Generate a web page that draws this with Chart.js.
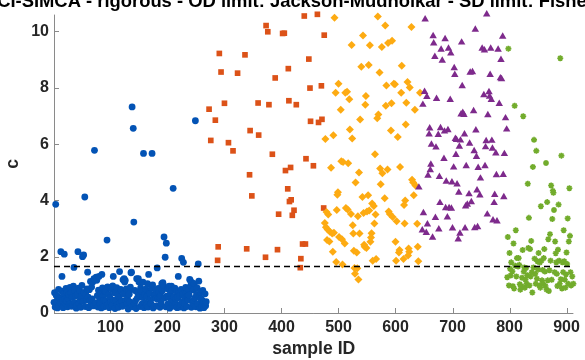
<!DOCTYPE html>
<html>
<head>
<meta charset="utf-8">
<script src="https://cdn.jsdelivr.net/npm/chart.js@4.4.1/dist/chart.umd.min.js"></script>
<style>
  html, body { margin: 0; padding: 0; background: #fff; }
  #wrap { width: 585px; height: 360px; }
</style>
</head>
<body>
<div id="wrap"><canvas id="c" width="585" height="360"></canvas></div>
<script>
// ---- data -------------------------------------------------------------
const titleText = 'CI-SIMCA - rigorous - OD limit: Jackson-Mudholkar - SD limit: Fisher';
const xTitle = 'sample ID';
const yTitle = 'c';
const xTickValues = [100, 200, 300, 400, 500, 600, 700, 800, 900];
const yTickValues = [0, 2, 4, 6, 8, 10];
const xRange = [1, 912];
const yRange = [0, 10.6];
const cLimit = 1.65;

// class 1: samples 1..268, value per sample in order
const class1C = [
  0.38, 0.72, 0.21, 3.86, 0.62, 0.41, 0.18, 0.58, 0.84, 0.26,
  0.52, 0.36, 2.18, 0.78, 1.30, 0.44, 0.19, 0.68, 2.09, 0.49,
  0.35, 0.87, 0.42, 0.74, 0.22, 0.51, 0.66, 0.30, 0.91, 0.33,
  0.71, 0.24, 0.55, 0.30, 0.95, 1.62, 0.82, 0.37, 0.60, 0.17,
  0.27, 0.66, 2.18, 0.88, 0.34, 0.79, 0.45, 0.20, 0.58, 0.98,
  2.00, 0.41, 2.06, 0.73, 4.12, 0.23, 0.64, 0.47, 0.86, 1.45,
  0.56, 0.19, 0.83, 0.44, 1.12, 0.31, 0.92, 0.50, 1.10, 0.25,
  1.22, 5.78, 1.19, 0.35, 1.27, 1.16, 0.62, 0.21, 0.81, 1.30,
  0.47, 0.33, 0.69, 0.18, 1.37, 0.89, 0.61, 0.45, 0.22, 0.77,
  0.43, 0.76, 0.26, 2.59, 0.93, 0.31, 0.64, 0.19, 0.55, 0.88,
  0.38, 0.85, 0.27, 0.96, 1.30, 0.46, 0.72, 0.16, 0.72, 0.44,
  0.90, 0.29, 0.63, 0.20, 0.57, 1.47, 0.35, 0.84, 0.81, 0.42,
  0.24, 1.18, 0.67, 1.22, 1.10, 1.16, 0.45, 0.86, 0.32, 0.51,
  0.14, 0.78, 0.67, 0.39, 0.92, 1.43, 1.45, 7.32, 0.22, 6.56,
  3.23, 0.35, 0.80, 0.44, 0.16, 1.22, 0.53, 0.71, 1.22, 1.10,
  0.62, 0.23, 0.89, 0.78, 0.31, 0.55, 1.10, 5.67, 0.19, 0.65,
  0.36, 0.85, 0.28, 0.58, 1.04, 0.21, 1.37, 0.74, 0.70, 0.47,
  0.33, 0.90, 5.67, 1.00, 0.18, 0.54, 0.24, 0.66, 0.83, 0.52,
  0.25, 1.60, 0.49, 0.87, 0.73, 0.56, 0.20, 0.62, 0.35, 1.04,
  0.79, 1.08, 0.98, 2.70, 0.53, 1.98, 0.22, 2.48, 0.60, 0.86,
  0.32, 0.57, 0.95, 0.17, 0.69, 0.39, 0.95, 0.81, 0.27, 4.43,
  0.58, 0.24, 0.88, 0.35, 0.50, 0.77, 0.19, 0.55, 1.30, 0.72,
  0.61, 0.21, 0.30, 0.84, 1.94, 0.40, 0.67, 1.80, 0.18, 0.34,
  0.56, 0.91, 0.71, 0.23, 0.59, 0.46, 0.85, 0.63, 1.19, 1.16,
  0.98, 0.20, 1.08, 0.36, 0.82, 0.44, 1.04, 0.53, 6.83, 0.22,
  0.66, 0.89, 0.33, 1.74, 1.13, 0.58, 0.17, 0.75, 0.50, 0.22,
  0.45, 0.80, 0.37, 0.19, 0.30, 0.68, 0.26, 0.40
];
const class1FirstId = 1;

// class 2 (squares)
const class2Id = [440, 463, 373, 376, 402, 405, 475, 291, 336, 448,
  294, 323, 412, 389, 450, 470, 300, 273, 359, 378,
  413, 426, 284, 451, 465, 471, 345, 360, 276, 307,
  315, 384, 443, 456, 407, 416, 344, 348, 411, 414,
  417, 422, 395, 419, 289, 339, 393, 288, 372, 474,
  437, 442, 434, 433];
const class2C = [10.55, 10.61, 10.21, 9.99, 9.93, 9.94, 9.87, 9.22, 9.17, 9.02,
  8.56, 8.52, 8.68, 8.35, 7.99, 8.07, 7.45, 7.24, 7.46, 7.40,
  7.54, 7.40, 6.85, 6.81, 6.77, 6.88, 6.48, 6.32, 6.13, 6.05,
  5.76, 5.64, 5.48, 5.23, 5.06, 5.17, 4.91, 4.16, 4.41, 3.96,
  4.02, 3.65, 3.51, 3.47, 2.35, 2.28, 2.25, 1.87, 1.98, 3.73,
  2.45, 2.45, 1.93, 1.61];

// class 3 (diamonds)
const class3Id = [493, 569, 582, 628, 543, 523, 555, 576, 587, 594,
  540, 553, 572, 611, 500, 495, 512, 515, 519, 504,
  548, 547, 584, 597, 599, 621, 625, 610, 643, 593,
  583, 619, 634, 570, 568, 538, 520, 491, 477, 524,
  592, 618, 604, 564, 505, 508, 517, 487, 536, 573,
  577, 586, 608, 629, 530, 574, 631, 635, 499, 498,
  542, 552, 581, 617, 632, 559, 562, 615, 479, 482,
  497, 513, 516, 522, 544, 550, 554, 565, 588, 590,
  602, 616, 638, 476, 478, 481, 485, 489, 492, 534,
  525, 563, 595, 526, 537, 558, 557, 501, 506, 480,
  484, 511, 545, 546, 549, 556, 600, 639, 490, 527,
  532, 607, 606, 623, 624, 622, 614, 560, 566, 601,
  640, 496, 507, 528, 533, 529, 535];
const class3C = [10.49, 10.53, 10.21, 10.16, 9.86, 9.52, 9.51, 9.45, 9.59, 9.67,
  8.75, 8.81, 8.54, 8.78, 8.14, 7.82, 7.82, 7.86, 7.59, 7.22,
  7.71, 7.40, 8.08, 8.14, 8.13, 8.21, 8.01, 7.82, 7.82, 7.45,
  7.36, 7.47, 7.22, 7.05, 6.92, 6.87, 6.52, 6.31, 6.18, 6.20,
  6.48, 6.70, 6.25, 5.64, 5.39, 5.36, 5.32, 5.16, 4.99, 5.13,
  4.96, 5.10, 5.19, 4.73, 4.64, 4.57, 4.64, 4.53, 4.29, 4.20,
  4.12, 4.18, 4.08, 4.00, 4.18, 3.89, 3.80, 3.84, 3.59, 3.50,
  3.66, 3.73, 3.68, 3.52, 3.55, 3.61, 3.64, 3.50, 3.61, 3.52,
  3.26, 3.18, 3.17, 3.20, 3.05, 2.97, 2.89, 2.82, 2.85, 3.44,
  3.12, 3.18, 3.41, 2.82, 2.82, 2.83, 2.68, 2.70, 2.62, 2.59,
  2.54, 2.47, 2.42, 2.35, 2.31, 2.53, 2.53, 2.35, 2.18, 2.21,
  2.15, 2.24, 2.15, 2.29, 2.18, 2.04, 1.92, 1.86, 1.92, 1.86,
  1.84, 1.81, 1.72, 1.60, 1.59, 1.39, 1.19];

// class 4 (triangles)
const class4Id = [652, 666, 667, 669, 651, 655, 672, 648, 660, 659,
  675, 663, 671, 662, 661, 657, 760, 740, 788, 687,
  716, 680, 693, 697, 752, 756, 767, 780, 682, 785,
  703, 704, 731, 735, 766, 784, 786, 717, 755, 764,
  765, 768, 696, 782, 737, 715, 718, 720, 762, 793,
  795, 679, 686, 692, 741, 721, 705, 707, 714, 730,
  759, 769, 712, 758, 770, 776, 738, 791, 706, 742,
  685, 724, 702, 745, 757, 777, 789, 677, 749,
  641, 649, 670, 656, 647, 654, 665, 689, 699, 708,
  711, 729, 743, 748, 774, 790, 678, 688, 694, 698,
  723, 726, 733, 773, 691, 761, 771, 778, 676, 700,
  722, 713, 739, 744, 710];
const class4C = [10.43, 9.84, 9.58, 9.10, 7.86, 7.68, 7.61, 7.40, 6.56, 6.35,
  6.33, 5.98, 5.88, 5.27, 5.08, 4.88, 10.61, 10.07, 9.82, 9.73,
  9.61, 9.36, 9.39, 9.22, 9.39, 9.33, 9.39, 9.36, 8.97, 8.99,
  8.70, 8.46, 8.54, 8.56, 8.46, 8.34, 8.31, 8.06, 7.74, 7.85,
  7.69, 7.57, 7.57, 7.43, 7.17, 7.06, 7.11, 7.04, 7.03, 6.92,
  6.52, 6.57, 6.45, 6.50, 6.49, 6.35, 6.19, 6.15, 6.13, 6.02,
  6.11, 6.12, 5.91, 5.89, 5.84, 5.67, 5.75, 5.65, 5.62, 5.55,
  5.48, 5.22, 5.17, 5.16, 5.22, 4.90, 4.91, 4.84, 4.78,
  4.46, 3.55, 3.38, 3.15, 2.94, 2.85, 2.68, 4.67, 4.64, 4.57,
  4.28, 4.22, 4.36, 4.18, 4.20, 4.12, 3.91, 3.73, 3.73, 3.71,
  3.79, 3.85, 3.94, 3.91, 3.40, 3.50, 3.29, 3.26, 2.97, 3.01,
  3.01, 2.82, 3.02, 3.05, 2.62];

// class 5 (asterisks)
const class5Id = [796, 797, 798, 799, 800, 801, 802, 803, 805, 806,
  807, 808, 809, 810, 811, 812, 813, 815, 816, 817,
  818, 819, 821, 822, 823, 824, 825, 826, 827, 828,
  829, 830, 831, 832, 833, 834, 835, 836, 837, 838,
  839, 840, 841, 842, 843, 844, 845, 846, 847, 848,
  849, 850, 851, 852, 853, 854, 855, 856, 857, 858,
  859, 860, 861, 862, 863, 864, 865, 866, 867, 868,
  869, 870, 871, 872, 873, 874, 875, 876, 877, 878,
  879, 880, 881, 882, 883, 884, 885, 886, 887, 888,
  889, 890, 891, 892, 893, 894, 895, 896, 897, 898,
  899, 900, 901, 902, 903, 904, 905, 906, 907, 908,
  910, 912];
const class5C = [1.27, 2.70, 9.39, 0.98, 2.13, 1.57, 1.33, 1.80, 1.48, 0.95,
  2.47, 0.87, 7.36, 1.68, 2.94, 1.30, 1.95, 1.65, 1.95, 1.71,
  1.02, 0.83, 0.95, 1.25, 2.24, 6.99, 1.47, 1.62, 0.90, 1.18,
  1.60, 1.04, 1.34, 4.59, 2.31, 3.38, 0.98, 2.27, 1.30, 2.56,
  1.45, 0.73, 5.19, 1.62, 6.15, 1.93, 1.39, 1.04, 5.76, 1.22,
  1.84, 1.54, 2.13, 0.98, 1.79, 0.90, 3.79, 1.86, 1.16, 1.53,
  1.04, 1.95, 2.27, 1.47, 0.96, 5.33, 0.83, 3.94, 1.16, 2.62,
  0.78, 1.52, 2.80, 1.86, 4.53, 1.18, 3.34, 4.34, 4.27, 3.66,
  1.45, 2.54, 2.12, 1.80, 1.39, 0.96, 2.25, 3.85, 1.86, 1.04,
  9.05, 1.20, 5.59, 0.87, 1.80, 1.45, 2.94, 1.84, 1.18, 0.90,
  1.37, 2.15, 1.74, 3.36, 1.04, 2.54, 4.43, 2.74, 1.45, 0.98,
  1.30, 1.04];

// ---- helpers ----------------------------------------------------------
const FONT = '"Liberation Sans", Arial, Helvetica, sans-serif';
const pairs = (ids, vals) => ids.map((id, i) => ({ x: id, y: vals[i] }));
const class1Points = class1C.map((v, i) => ({ x: class1FirstId + i, y: v }));

function scatterSet(label, data, style, color, radius, order, extra) {
  return Object.assign({
    type: 'scatter', label, data, order,
    pointStyle: style, pointRadius: radius, pointHoverRadius: radius,
    backgroundColor: color, borderColor: color, borderWidth: 0,
    clip: false
  }, extra || {});
}

// axes lines, inward tick marks, and the texts around the plot
const framePlugin = {
  id: 'frame',
  beforeDatasetsDraw(chart) {
    const { ctx, chartArea: a, scales } = chart;
    ctx.save();
    ctx.strokeStyle = '#8a8a8a';
    ctx.lineWidth = 1;
    ctx.beginPath();
    ctx.moveTo(a.left + 0.5, a.top);
    ctx.lineTo(a.left + 0.5, a.bottom + 0.5);
    ctx.lineTo(a.right, a.bottom + 0.5);
    xTickValues.forEach(v => {
      const px = Math.round(scales.x.getPixelForValue(v)) + 0.5;
      ctx.moveTo(px, a.bottom);
      ctx.lineTo(px, a.bottom - 5);
    });
    yTickValues.forEach(v => {
      const py = Math.round(scales.y.getPixelForValue(v)) + 0.5;
      ctx.moveTo(a.left, py);
      ctx.lineTo(a.left + 5, py);
    });
    ctx.stroke();
    ctx.restore();
  },
  afterDraw(chart) {
    const { ctx, chartArea: a } = chart;
    ctx.save();
    ctx.fillStyle = '#000000';
    ctx.font = 'bold 18.4px ' + FONT;
    ctx.textAlign = 'center';
    ctx.textBaseline = 'alphabetic';
    ctx.fillText(titleText, 295.5, 6.5);

    ctx.fillStyle = '#262626';
    ctx.font = 'bold 17.6px ' + FONT;
    ctx.fillText(xTitle, (a.left + a.right) / 2, 354);

    ctx.translate(18, (a.top + a.bottom) / 2);
    ctx.rotate(-Math.PI / 2);
    ctx.fillText(yTitle, 0, 0);
    ctx.restore();
  }
};

const tickFont = { family: FONT, size: 16, weight: 'bold' };

new Chart(document.getElementById('c'), {
  type: 'scatter',
  data: {
    datasets: [
      scatterSet('class 1', class1Points, 'circle', '#0353b5', 3.4, 5),
      scatterSet('class 2', pairs(class2Id, class2C), 'rect', '#dc5218', 4, 4),
      scatterSet('class 3', pairs(class3Id, class3C), 'rectRot', '#fdab12', 4, 3),
      scatterSet('class 4', pairs(class4Id, class4C), 'triangle', '#7e2a8c', 4.3, 2),
      scatterSet('class 5', pairs(class5Id, class5C), 'star', '#72ac2c', 3, 1, { borderWidth: 1.6 }),
      {
        type: 'line', label: 'limit', order: 0,
        data: [{ x: xRange[0], y: cLimit }, { x: xRange[1], y: cLimit }],
        borderColor: '#000000', borderWidth: 1.4, borderDash: [6, 4],
        pointRadius: 0, fill: false, clip: false
      }
    ]
  },
  options: {
    responsive: false,
    animation: false,
    devicePixelRatio: 1,
    layout: { padding: { top: 11, right: 9, left: 0, bottom: 0 } },
    plugins: { legend: { display: false }, tooltip: { enabled: false }, title: { display: false } },
    scales: {
      x: {
        type: 'linear', position: 'bottom',
        min: xRange[0], max: xRange[1],
        grid: { display: false, drawTicks: false },
        border: { display: false },
        afterBuildTicks: s => { s.ticks = xTickValues.map(v => ({ value: v })); },
        afterFit: s => { s.height = 47; },
        ticks: { font: tickFont, color: '#262626', padding: 5, maxRotation: 0, autoSkip: false }
      },
      y: {
        type: 'linear', position: 'left',
        min: yRange[0], max: yRange[1],
        grid: { display: false, drawTicks: false },
        border: { display: false },
        afterBuildTicks: s => { s.ticks = yTickValues.map(v => ({ value: v })); },
        afterFit: s => { s.width = 54; },
        ticks: { font: tickFont, color: '#262626', padding: 5, autoSkip: false }
      }
    }
  },
  plugins: [framePlugin]
});
</script>
</body>
</html>
